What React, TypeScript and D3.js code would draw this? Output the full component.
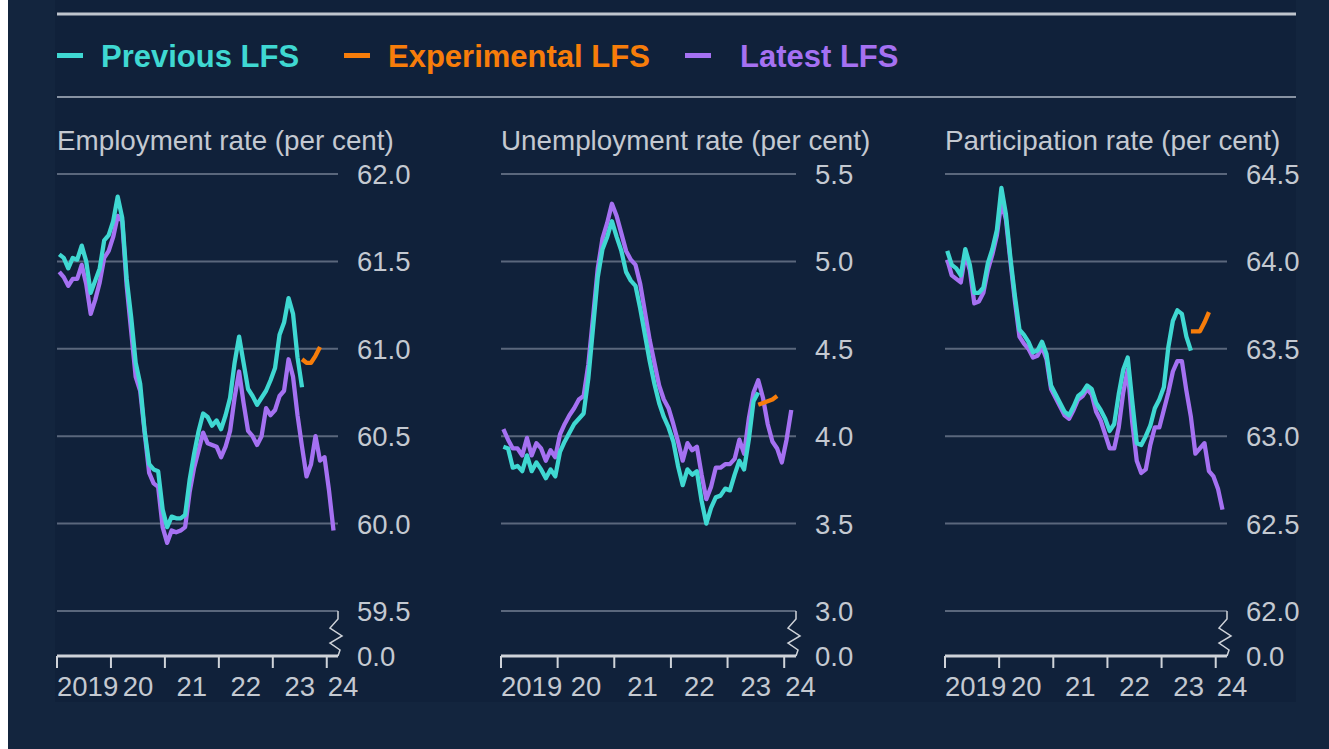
import React from "react"
import * as d3 from "d3"

// months from Jan 2019, points plotted mid-month
const monthSpan = 62.5
const experimentalStart = 54
const yearLabels = ["2019", "20", "21", "22", "23", "24"]
const legendLabels = ["Previous LFS", "Experimental LFS", "Latest LFS"]

const employmentTicks = [62.0, 61.5, 61.0, 60.5, 60.0, 59.5]
const unemploymentTicks = [5.5, 5.0, 4.5, 4.0, 3.5, 3.0]
const participationTicks = [64.5, 64.0, 63.5, 63.0, 62.5, 62.0]

const employmentPrevious = [
  61.54, 61.52, 61.46, 61.52, 61.51, 61.59, 61.5, 61.32, 61.39, 61.46,
  61.62, 61.65, 61.73, 61.87, 61.75, 61.4, 61.18, 60.92, 60.8, 60.53,
  60.34, 60.31, 60.3, 60.08, 59.98, 60.04, 60.03, 60.03, 60.05, 60.25,
  60.4, 60.53, 60.63, 60.61, 60.56, 60.59, 60.54, 60.62, 60.72, 60.92,
  61.07, 60.92, 60.77, 60.73, 60.68, 60.72, 60.76, 60.82, 60.89, 61.08,
  61.15, 61.29, 61.2, 60.95, 60.78,
]
const employmentExperimental = [60.94, 60.92, 60.92, 60.96, 61.01]
const employmentLatest = [
  61.44, 61.41, 61.36, 61.4, 61.4, 61.48, 61.37, 61.2, 61.28, 61.38,
  61.52, 61.56, 61.64, 61.76, 61.73, 61.36, 61.1, 60.84, 60.76, 60.52,
  60.29, 60.23, 60.21, 59.98, 59.89, 59.96, 59.95, 59.96, 59.98, 60.18,
  60.32, 60.42, 60.52, 60.46, 60.45, 60.44, 60.38, 60.44, 60.53, 60.72,
  60.87, 60.69, 60.53, 60.5, 60.45, 60.5, 60.66, 60.62, 60.65, 60.73,
  60.76, 60.94, 60.84, 60.62, 60.44, 60.27, 60.34, 60.5, 60.36, 60.38,
  60.19, 59.96,
]

const unemploymentPrevious = [
  3.94, 3.93, 3.82, 3.83, 3.8, 3.89, 3.8, 3.85, 3.81, 3.76,
  3.81, 3.77, 3.91, 3.97, 4.02, 4.07, 4.1, 4.13, 4.33, 4.62,
  4.91, 5.07, 5.14, 5.23, 5.14, 5.06, 4.94, 4.89, 4.86, 4.73,
  4.58, 4.43, 4.3, 4.19, 4.11, 4.05, 3.97, 3.83, 3.72, 3.81,
  3.78, 3.8, 3.63, 3.5, 3.59, 3.65, 3.66, 3.7, 3.69, 3.78,
  3.86, 3.81, 3.98, 4.2, 4.25,
]
const unemploymentExperimental = [4.18, 4.19, 4.2, 4.21, 4.23]
const unemploymentLatest = [
  4.04, 3.98, 3.93, 3.93, 3.89, 3.99, 3.89, 3.96, 3.93, 3.86,
  3.92, 3.88, 4.01, 4.07, 4.12, 4.16, 4.21, 4.23, 4.41, 4.68,
  4.96, 5.13, 5.22, 5.33, 5.26, 5.16, 5.06, 5.01, 4.98, 4.87,
  4.71, 4.55, 4.42, 4.29, 4.21, 4.16, 4.07, 3.97, 3.86, 3.96,
  3.92, 3.94, 3.78, 3.64, 3.71, 3.82, 3.82, 3.84, 3.84, 3.87,
  3.98, 3.9, 4.1, 4.25, 4.32, 4.22, 4.07, 3.97, 3.93, 3.85,
  3.98, 4.15,
]

const participationPrevious = [
  64.06, 63.98, 63.96, 63.92, 64.07, 63.98, 63.82, 63.82, 63.85, 63.99,
  64.07, 64.18, 64.42, 64.27, 64.02, 63.8, 63.61, 63.58, 63.54, 63.48,
  63.49, 63.54, 63.47, 63.29, 63.24, 63.19, 63.14, 63.12, 63.17, 63.23,
  63.25, 63.29, 63.27, 63.19, 63.15, 63.1, 63.03, 63.07, 63.24, 63.38,
  63.45, 63.2, 62.96, 62.95, 63.0, 63.06, 63.16, 63.21, 63.28, 63.51,
  63.66, 63.72, 63.7, 63.57, 63.49,
]
const participationExperimental = [63.6, 63.6, 63.6, 63.65, 63.71]
const participationLatest = [
  64.01, 63.92, 63.9, 63.88, 64.04, 63.95, 63.76, 63.77, 63.82, 63.95,
  64.04, 64.15, 64.34, 64.24, 64.0, 63.77, 63.57, 63.53, 63.5, 63.45,
  63.46, 63.51, 63.44, 63.27, 63.22, 63.17, 63.12, 63.1, 63.15, 63.21,
  63.23, 63.27, 63.24, 63.14, 63.09, 63.01, 62.93, 62.93, 63.05, 63.25,
  63.38, 63.08, 62.86, 62.79, 62.81, 62.95, 63.05, 63.05, 63.15, 63.25,
  63.37, 63.43, 63.43, 63.26, 63.11, 62.9, 62.93, 62.96, 62.8, 62.77,
  62.7, 62.58,
]

const COLORS = ["#3fd8d2", "#f77d0a", "#a571f2"]
const TEXT = "#c4c9d1"
const GRID = "#5a677c"
const AXIS = "#cfd3d9"
const FONT = "'Liberation Sans', Arial, Helvetica, sans-serif"

const panels = [
  {
    title: "Employment rate (per cent)",
    ticks: employmentTicks,
    previous: employmentPrevious,
    experimental: employmentExperimental,
    latest: employmentLatest,
    left: 57,
    right: 338,
  },
  {
    title: "Unemployment rate (per cent)",
    ticks: unemploymentTicks,
    previous: unemploymentPrevious,
    experimental: unemploymentExperimental,
    latest: unemploymentLatest,
    left: 501,
    right: 796,
  },
  {
    title: "Participation rate (per cent)",
    ticks: participationTicks,
    previous: participationPrevious,
    experimental: participationExperimental,
    latest: participationLatest,
    left: 945,
    right: 1227,
  },
]

const TOP = 174
const BOTTOM = 611
const BASE = 656

const Panel = ({ p }) => {
  const x = d3.scaleLinear().domain([0, monthSpan]).range([p.left, p.right])
  const y = d3
    .scaleLinear()
    .domain([p.ticks[p.ticks.length - 1], p.ticks[0]])
    .range([BOTTOM, TOP])

  const line = (offset) =>
    d3
      .line()
      .x((d, i) => x(i + offset + 0.5))
      .y((d) => y(d))

  const R = p.right
  // axis break zigzag
  const zig = `M${R},${BOTTOM} L${R},${BOTTOM + 8} L${R - 8},${BOTTOM + 17} L${R + 4},${BOTTOM + 25} L${R - 8},${BOTTOM + 32} L${R + 2},${BOTTOM + 39} L${R},${BASE}`

  const years = d3.range(0, 6)
  const lw = 4.3

  return (
    <g>
      <text x={p.left} y={150} fill={TEXT} fontSize={27.8} fontFamily={FONT}>
        {p.title}
      </text>

      {p.ticks.map((t) => (
        <g key={t}>
          <line x1={p.left} x2={R} y1={y(t)} y2={y(t)} stroke={GRID} strokeWidth={2} />
          <text x={R + 19} y={y(t) + 10} fill={TEXT} fontSize={27.5} fontFamily={FONT}>
            {d3.format(".1f")(t)}
          </text>
        </g>
      ))}

      <path d={zig} fill="none" stroke={AXIS} strokeWidth={1.5} />
      <line x1={p.left} x2={R} y1={BASE} y2={BASE} stroke={AXIS} strokeWidth={3} />
      <text x={R + 19} y={BASE + 10} fill={TEXT} fontSize={27.5} fontFamily={FONT}>
        0.0
      </text>

      {years.map((k) => (
        <line
          key={k}
          x1={x(k * 12)}
          x2={x(k * 12)}
          y1={BASE}
          y2={BASE + 12}
          stroke={AXIS}
          strokeWidth={2}
        />
      ))}
      {yearLabels.map((lab, k) => (
        <text
          key={lab}
          x={k === 0 ? x(0) : k < 5 ? x(k * 12 + 6) : x(k * 12) + 1}
          y={696}
          textAnchor={k === 0 || k === 5 ? "start" : "middle"}
          fill={TEXT}
          fontSize={27.5}
          fontFamily={FONT}
        >
          {lab}
        </text>
      ))}

      <path d={line(0)(p.latest)} fill="none" stroke={COLORS[2]} strokeWidth={lw} strokeLinejoin="round" />
      <path d={line(0)(p.previous)} fill="none" stroke={COLORS[0]} strokeWidth={lw} strokeLinejoin="round" />
      <path
        d={line(experimentalStart)(p.experimental)}
        fill="none"
        stroke={COLORS[1]}
        strokeWidth={lw}
        strokeLinejoin="round"
      />
    </g>
  )
}

const legendPos = [
  { dash: 57, text: 101 },
  { dash: 344, text: 388 },
  { dash: 685, text: 740 },
]

export default function App() {
  return (
    <svg
      width={1329}
      height={749}
      style={{ position: "absolute", left: 0, top: 0, display: "block" }}
    >
      <rect x={0} y={0} width={1329} height={749} fill="#ffffff" />
      <rect x={8} y={0} width={1321} height={749} fill="#13253e" />
      <rect x={55} y={0} width={1241} height={702} fill="#10213a" />

      <line x1={57} x2={1296} y1={14} y2={14} stroke="#bfc5cd" strokeWidth={3} />
      <line x1={57} x2={1296} y1={97} y2={97} stroke="#8792a2" strokeWidth={2} />

      {legendLabels.map((lab, i) => (
        <g key={lab}>
          <rect x={legendPos[i].dash} y={53} width={26} height={5} fill={COLORS[i]} />
          <text
            x={legendPos[i].text}
            y={67}
            fill={COLORS[i]}
            fontSize={31}
            fontWeight="bold"
            fontFamily={FONT}
          >
            {lab}
          </text>
        </g>
      ))}

      {panels.map((p) => (
        <Panel key={p.title} p={p} />
      ))}
    </svg>
  )
}
